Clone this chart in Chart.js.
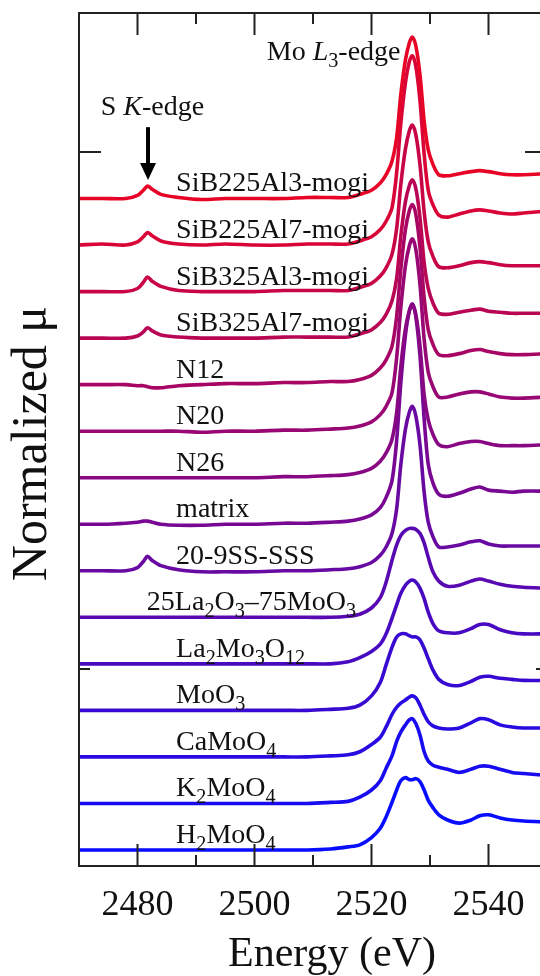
<!DOCTYPE html>
<html>
<head>
<meta charset="utf-8">
<script src="https://cdn.jsdelivr.net/npm/chart.js@4.4.1/dist/chart.umd.min.js"></script>
<style>
html,body{margin:0;padding:0;background:#fff;overflow:hidden;width:540px;height:976px;}
#wrap{width:540px;height:976px;overflow:hidden;position:relative;}
canvas{display:block;}
</style>
</head>
<body>
<div id="wrap"><canvas id="c" width="560" height="976"></canvas></div>
<script>
// ---------------- DATA ----------------
const energy = [2470,2474,2478,2480,2481,2481.7,2482.5,2484,2487,2491,2495,2500,2505,2509,2513,2516,2518,2520,2521.5,2522.5,2523.5,2524.3,2525,2525.8,2526.5,2527,2527.6,2528.3,2529,2529.7,2530.5,2531.5,2533,2535,2537,2538.5,2540,2542,2544,2546,2550];

const sampleNames = ["SiB225Al3-mogi","SiB225Al7-mogi","SiB325Al3-mogi","SiB325Al7-mogi","N12","N20","N26","matrix","20-9SS-SSS","25La_{2}O_{3}\u201375MoO_{3}","La_{2}Mo_{3}O_{12}","MoO_{3}","CaMoO_{4}","K_{2}MoO_{4}","H_{2}MoO_{4}"];

// vertical offsets of each spectrum (normalized mu units)
const offsets = [4.55,4.10,3.65,3.20,2.75,2.30,1.85,1.40,0.95,0.50,0.05,-0.40,-0.85,-1.30,-1.75];

const muSiB225Al3 = [0.00,0.00,0.00,0.03,0.08,0.12,0.09,0.04,0.01,-0.01,0.00,0.00,0.00,0.01,0.01, 0.01,0.04,0.08,0.15,0.23,0.36, 0.59,1.00,1.34,1.51,1.56,1.47,1.19,0.75, 0.47,0.33,0.23,0.22,0.24,0.26,0.27,0.26,0.24,0.23,0.23,0.24];
const muSiB225Al7 = [0.00,0.01,0.00,0.03,0.08,0.12,0.09,0.04,0.01,0.00,0.01,0.00,0.00,0.01,0.01, 0.01,0.04,0.08,0.15,0.23,0.36, 0.70,1.17,1.57,1.78,1.83,1.72,1.39,0.88, 0.53,0.39,0.29,0.27,0.30,0.33,0.34,0.33,0.31,0.30,0.31,0.33];
const muSiB325Al3 = [0.00,0.00,0.00,0.03,0.09,0.14,0.10,0.05,0.01,0.00,0.00,0.00,0.01,0.01,0.01, 0.01,0.04,0.08,0.15,0.23,0.36, 0.61,1.03,1.38,1.56,1.61,1.51,1.22,0.77, 0.48,0.34,0.24,0.23,0.25,0.28,0.29,0.28,0.26,0.25,0.25,0.25];
const muSiB325Al7 = [0.00,0.00,0.00,0.02,0.06,0.10,0.07,0.03,0.01,0.00,0.00,0.00,0.01,0.01,0.01, 0.01,0.04,0.08,0.15,0.23,0.36, 0.58,0.98,1.32,1.48,1.53,1.44,1.16,0.73, 0.48,0.34,0.24,0.23,0.25,0.27,0.28,0.26,0.25,0.24,0.24,0.24];
const muN12 = [0.00,0.00,0.00,-0.01,-0.01,-0.02,-0.03,-0.03,-0.01,0.00,0.01,0.01,0.02,0.02,0.03, 0.03,0.05,0.09,0.16,0.24,0.37, 0.66,1.11,1.50,1.69,1.74,1.64,1.32,0.84, 0.53,0.39,0.29,0.28,0.30,0.33,0.34,0.32,0.30,0.29,0.29,0.30];
const muN20 = [0.00,0.00,0.00,0.00,0.00,0.00,0.00,0.00,0.00,-0.01,0.00,0.00,0.01,0.01,0.02, 0.03,0.05,0.09,0.16,0.24,0.37, 0.71,1.19,1.60,1.80,1.86,1.75,1.41,0.89, 0.57,0.43,0.33,0.33,0.36,0.38,0.38,0.36,0.33,0.32,0.32,0.33];
const muN26 = [0.00,0.00,0.00,0.00,0.00,0.00,0.00,0.00,0.00,0.00,0.00,0.00,0.01,0.01,0.02, 0.03,0.05,0.09,0.16,0.24,0.37, 0.63,1.07,1.44,1.62,1.67,1.57,1.27,0.80, 0.56,0.42,0.32,0.30,0.33,0.35,0.35,0.33,0.31,0.31,0.31,0.32];
const muMatrix = [0.00,0.00,0.01,0.02,0.03,0.03,0.02,0.00,-0.01,-0.01,0.00,0.00,0.01,0.01,0.02, 0.03,0.05,0.09,0.16,0.26,0.42, 0.81,1.36,1.83,2.07,2.13,2.00,1.62,1.02, 0.58,0.40,0.29,0.27,0.30,0.34,0.36,0.33,0.32,0.31,0.32,0.32];
const mu20_9SS = [0.00,0.00,0.00,0.03,0.09,0.14,0.10,0.05,0.01,-0.01,-0.01,-0.01,0.00,0.00,0.01, 0.02,0.04,0.08,0.15,0.23,0.36, 0.60,1.02,1.37,1.54,1.59,1.49,1.21,0.76, 0.47,0.33,0.23,0.23,0.25,0.28,0.29,0.26,0.24,0.24,0.24,0.24];
const mu25La2O3 = [0.00,0.00,0.00,0.00,0.00,0.00,0.00,0.00,0.00,0.00,0.00,0.00,0.00,0.00,0.00, 0.01,0.03,0.09,0.19,0.34,0.55, 0.70,0.79,0.84,0.86,0.86,0.85,0.81,0.72, 0.58,0.44,0.35,0.30,0.31,0.35,0.37,0.35,0.32,0.30,0.29,0.28];
const muLa2Mo3O12 = [0.00,0.00,0.00,0.00,0.00,0.00,0.00,0.00,0.00,0.00,0.00,0.00,0.00,0.00,0.00, 0.02,0.06,0.12,0.19,0.29,0.44, 0.57,0.68,0.76,0.80,0.81,0.79,0.73,0.63, 0.50,0.39,0.32,0.30,0.30,0.34,0.38,0.38,0.33,0.30,0.29,0.29];
const muMoO3 = [0.00,0.00,0.00,0.00,0.00,0.00,0.00,0.00,0.00,0.00,0.00,0.00,0.00,0.00,0.01, 0.02,0.05,0.14,0.27,0.44,0.61, 0.71,0.74,0.74,0.72,0.71,0.71,0.68,0.60, 0.50,0.39,0.30,0.25,0.24,0.28,0.32,0.33,0.31,0.30,0.29,0.29];
const muCaMoO4 = [0.00,0.00,0.00,0.00,0.00,0.00,0.00,0.00,0.00,0.00,0.00,0.00,0.00,0.00,0.01, 0.02,0.05,0.12,0.19,0.29,0.41, 0.48,0.52,0.55,0.58,0.59,0.57,0.50,0.41, 0.34,0.30,0.28,0.27,0.28,0.33,0.37,0.36,0.31,0.29,0.28,0.28];
const muK2MoO4 = [0.00,0.00,0.00,0.00,0.00,0.00,0.00,0.00,0.00,0.00,0.00,0.00,0.00,0.00,0.01, 0.02,0.06,0.13,0.22,0.34,0.46, 0.60,0.69,0.76,0.81,0.82,0.77,0.66,0.50, 0.41,0.37,0.35,0.33,0.30,0.33,0.36,0.36,0.33,0.30,0.29,0.27];
const muH2MoO4 = [0.00,0.00,0.00,0.00,0.00,0.00,0.00,0.00,0.00,0.00,0.00,0.00,0.00,0.00,0.01, 0.03,0.05,0.12,0.21,0.32,0.46, 0.58,0.67,0.70,0.68,0.68,0.69,0.66,0.58, 0.48,0.41,0.34,0.29,0.26,0.29,0.33,0.34,0.31,0.29,0.28,0.27];

const spectra = [muSiB225Al3,muSiB225Al7,muSiB325Al3,muSiB325Al7,muN12,muN20,muN26,muMatrix,mu20_9SS,mu25La2O3,muLa2Mo3O12,muMoO3,muCaMoO4,muK2MoO4,muH2MoO4];

// axis ticks
const xMajorTicks = [2480,2500,2520,2540];
const xMinorTicks = [2490,2510,2530,2550];
const xTickLabels = ["2480","2500","2520","2540"];
const yMajorTicks = [5];
const yMinorTicks = [0];

// ---------------- STYLE ----------------
const SERIF = '"Liberation Serif","Times New Roman",Times,serif';
function lineColor(i){
  const t = i/(spectra.length-1);
  const r = Math.round(232*(1-t)+8*t);
  const g = Math.round(4*(1-t)+12*t);
  const b = Math.round(38*(1-t)+255*t);
  return `rgb(${r},${g},${b})`;
}

const datasets = spectra.map((mu,i)=>({
  label: sampleNames[i],
  data: energy.map((e,k)=>({x:e, y:mu[k]+offsets[i]})),
  borderColor: lineColor(i),
  borderWidth: 3.6,
  pointRadius: 0,
  fill: false,
  tension: 0.3,
  borderJoinStyle: 'round',
  borderCapStyle: 'round'
}));

function parseRich(s){
  const out=[]; const re=/(_\{[^}]*\}|\*[^*]*\*)/g; let last=0, m;
  while((m=re.exec(s))){
    if(m.index>last) out.push({t:s.slice(last,m.index)});
    const tok=m[0];
    if(tok[0]==='_') out.push({t:tok.slice(2,-1),sub:true});
    else out.push({t:tok.slice(1,-1),it:true});
    last=re.lastIndex;
  }
  if(last<s.length) out.push({t:s.slice(last)});
  return out;
}
function drawRich(ctx,s,x,y,size){
  let cx=x;
  ctx.textAlign='left'; ctx.textBaseline='alphabetic';
  for(const p of parseRich(s)){
    const fs = p.sub ? size*0.72 : size;
    ctx.font = (p.it?'italic ':'') + fs.toFixed(1)+'px '+SERIF;
    ctx.fillText(p.t, cx, y + (p.sub ? size*0.24 : 0));
    cx += ctx.measureText(p.t).width;
  }
}

const deco = {
  id:'deco',
  afterDatasetsDraw(chart){
    const ctx=chart.ctx, xs=chart.scales.x, ys=chart.scales.y, a=chart.chartArea;
    ctx.save();
    ctx.fillStyle='#111'; ctx.strokeStyle='#222';
    sampleNames.forEach((n,i)=>{
      const ex = (i===9) ? 2481.6 : 2486.6;
      drawRich(ctx, n, xs.getPixelForValue(ex), ys.getPixelForValue(offsets[i]+0.068), 28);
    });
    drawRich(ctx, 'Mo *L*_{3}-edge', xs.getPixelForValue(2502.1), ys.getPixelForValue(5.89), 28);
    drawRich(ctx, 'S *K*-edge', xs.getPixelForValue(2473.7), ys.getPixelForValue(5.36), 28);
    const ax = xs.getPixelForValue(2481.8), y0 = ys.getPixelForValue(5.24), y1 = ys.getPixelForValue(4.73);
    ctx.lineWidth=4; ctx.strokeStyle='#000';
    ctx.beginPath(); ctx.moveTo(ax,y0); ctx.lineTo(ax,y1-14); ctx.stroke();
    ctx.fillStyle='#000';
    ctx.beginPath(); ctx.moveTo(ax-8,y1-17); ctx.lineTo(ax+8,y1-17); ctx.lineTo(ax,y1); ctx.closePath(); ctx.fill();
    ctx.strokeStyle='#222'; ctx.lineWidth=2;
    ctx.strokeRect(a.left,a.top,a.right-a.left,a.bottom-a.top);
    const tick=(x,len)=>{
      ctx.beginPath(); ctx.moveTo(x,a.bottom); ctx.lineTo(x,a.bottom-len);
      ctx.moveTo(x,a.top); ctx.lineTo(x,a.top+len); ctx.stroke();
    };
    xMajorTicks.forEach(v=>tick(xs.getPixelForValue(v),22));
    xMinorTicks.forEach(v=>tick(xs.getPixelForValue(v),11));
    const ytick=(y,len)=>{
      ctx.beginPath(); ctx.moveTo(a.left,y); ctx.lineTo(a.left+len,y);
      ctx.moveTo(a.right,y); ctx.lineTo(a.right-len,y); ctx.stroke();
    };
    yMajorTicks.forEach(v=>ytick(ys.getPixelForValue(v),22));
    yMinorTicks.forEach(v=>ytick(ys.getPixelForValue(v),11));
    ctx.fillStyle='#111';
    ctx.font='36px '+SERIF; ctx.textAlign='center'; ctx.textBaseline='alphabetic';
    xMajorTicks.forEach((v,i)=>ctx.fillText(xTickLabels[i], xs.getPixelForValue(v), a.bottom+49));
    ctx.font='42px '+SERIF;
    ctx.fillText('Energy (eV)', 332, a.bottom+100);
    ctx.save();
    ctx.translate(46,(a.top+a.bottom)/2+4); ctx.rotate(-Math.PI/2);
    ctx.font='50px '+SERIF; ctx.textAlign='center';
    ctx.fillText('Normalized \u03bc',0,0);
    ctx.restore();
    ctx.restore();
  }
};

new Chart(document.getElementById('c'),{
  type:'line',
  data:{datasets},
  options:{
    responsive:false, animation:false, devicePixelRatio:1,
    layout:{padding:{left:79,top:13,right:13,bottom:110}},
    plugins:{legend:{display:false},tooltip:{enabled:false}},
    scales:{
      x:{type:'linear',min:2470,max:2550,display:false},
      y:{type:'linear',min:-1.905,max:6.344,display:false}
    }
  },
  plugins:[deco]
});
</script>
</body>
</html>
